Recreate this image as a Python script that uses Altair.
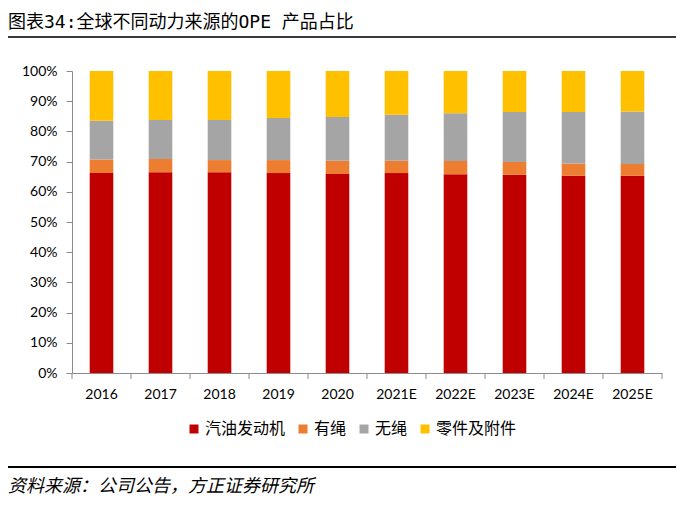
import altair as alt
import pandas as pd

years = ["2016", "2017", "2018", "2019", "2020", "2021E", "2022E", "2023E", "2024E", "2025E"]
series_names = ["汽油发动机", "有绳", "无绳", "零件及附件"]
gasoline = [66.2, 66.5, 66.5, 66.2, 65.9, 66.2, 65.8, 65.6, 65.3, 65.3]
corded = [4.5, 4.4, 4.0, 4.3, 4.4, 4.1, 4.4, 4.3, 4.1, 3.9]
cordless = [12.8, 12.9, 13.3, 13.9, 14.5, 15.2, 15.8, 16.5, 17.0, 17.4]
parts = [16.5, 16.2, 16.2, 15.6, 15.2, 14.5, 14.0, 13.6, 13.6, 13.4]
colors = ["#C00000", "#ED7D31", "#A5A5A5", "#FFC000"]
y_ticks = [0, 10, 20, 30, 40, 50, 60, 70, 80, 90, 100]

title_text = "图表34:全球不同动力来源的OPE 产品占比"
source_text = "资料来源：公司公告，方正证券研究所"

rows = []
for si, (name, vals) in enumerate(zip(series_names, [gasoline, corded, cordless, parts])):
    for y, v in zip(years, vals):
        rows.append({"year": y, "series": name, "value": v, "order": si})
df = pd.DataFrame(rows)

W, H = 590, 302
AX = "#8C8C8C"
LATIN = "Lato"
CJK = "Noto Sans CJK SC"

bars = alt.Chart(df).mark_bar(width=alt.RelativeBandSize(0.4)).encode(
    x=alt.X("year:N", sort=years, title=None,
            scale=alt.Scale(paddingInner=0, paddingOuter=0),
            axis=alt.Axis(labelAngle=0, ticks=False, tickSize=0, labelPadding=14,
                          domainColor=AX, labelFont=LATIN, labelFontSize=14,
                          labelColor="#000000", grid=False)),
    y=alt.Y("value:Q", stack="zero", title=None,
            scale=alt.Scale(domain=[0, 100], nice=False),
            axis=alt.Axis(values=y_ticks, labelExpr="datum.value + '%'", grid=False,
                          tickSize=6, tickColor=AX, domainColor=AX, labelPadding=9,
                          labelFont=LATIN, labelFontSize=14, labelColor="#000000")),
    color=alt.Color("series:N", scale=alt.Scale(domain=series_names, range=colors),
                    legend=alt.Legend(title=None, orient="none", legendX=114, legendY=350,
                                      direction="horizontal", symbolType="square",
                                      symbolSize=81, symbolStrokeWidth=0,
                                      labelFont=CJK, labelFontSize=16, labelColor="#000000",
                                      labelOffset=3, columnPadding=9)),
    order=alt.Order("order:Q"),
)

tick_df = pd.DataFrame({"year": years})
ticks = alt.Chart(tick_df).mark_rule(color=AX, strokeWidth=1).encode(
    x=alt.X("year:N", sort=years, bandPosition=0),
    y=alt.value(H), y2=alt.value(H + 6),
)
last_tick = alt.Chart(pd.DataFrame({"a": [0]})).mark_rule(color=AX, strokeWidth=1).encode(
    x=alt.value(W), y=alt.value(H), y2=alt.value(H + 6),
)

title = alt.Chart(pd.DataFrame({"t": [title_text]})).mark_text(
    align="left", baseline="middle", font="DejaVu Sans Mono, Noto Sans CJK SC",
    fontSize=18, color="#000000"
).encode(x=alt.value(-64), y=alt.value(-48), text="t:N")

top_line = alt.Chart(pd.DataFrame({"a": [0]})).mark_rule(color="#3A3A3A", strokeWidth=2).encode(
    x=alt.value(-64), x2=alt.value(604), y=alt.value(-34),
)
bottom_line = alt.Chart(pd.DataFrame({"a": [0]})).mark_rule(color="#000000", strokeWidth=2).encode(
    x=alt.value(-64), x2=alt.value(604), y=alt.value(396),
)
source = alt.Chart(pd.DataFrame({"t": [source_text]})).mark_text(
    align="left", baseline="middle", font=CJK, fontSize=18, fontStyle="italic", color="#000000"
).encode(x=alt.value(-64), y=alt.value(416), text="t:N")

chart = alt.layer(bars, ticks, last_tick, title, top_line, bottom_line, source).properties(
    width=W, height=H,
    autosize="none",
    padding={"left": 64, "top": 63, "right": 30, "bottom": 130},
).configure_view(stroke=None)

chart.save("out.html", embed_options={"renderer": "svg", "actions": False})
